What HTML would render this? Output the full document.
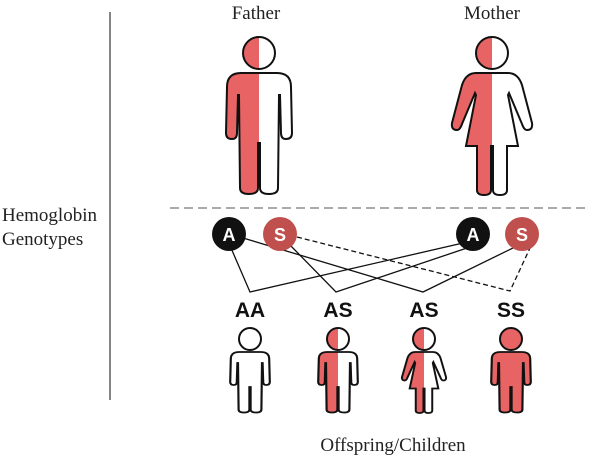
<!DOCTYPE html>
<html><head><meta charset="utf-8"><style>
html,body{margin:0;padding:0;background:#fff;width:600px;height:458px;overflow:hidden}
</style></head><body>
<svg width="600" height="458" viewBox="0 0 600 458" xmlns="http://www.w3.org/2000/svg">
<defs>
<path id="man" d="M -18 0 H 18 Q 32 0 32 14 L 33 60 Q 33 66 27 66 Q 22 66 22 60 L 21 22 L 20 22 L 19 115 Q 19 121 10 121 Q 1 121 1 115 L 1 70 L -1 70 L -1 115 Q -1 121 -10 121 Q -19 121 -19 115 L -20 22 L -21 22 L -22 60 Q -22 66 -27 66 Q -33 66 -33 60 L -32 14 Q -32 0 -18 0 Z"/>
<path id="woman" d="M -16 0 H 16 Q 26 0 30 12 L 40 50 Q 41 57 35 57 Q 32 57 30 51 L 17 20 L 16 22 L 26 73 H 15 L 15 117 Q 15 122 8 122 Q 1 122 1 117 L 1 73 H -1 L -1 117 Q -1 122 -8 122 Q -15 122 -15 117 L -15 73 H -26 L -16 22 L -17 20 L -30 51 Q -32 57 -35 57 Q -41 57 -40 50 L -30 12 Q -26 0 -16 0 Z"/>
<clipPath id="lh"><rect x="-100" y="-100" width="100" height="300"/></clipPath>
</defs>
<g font-family="Liberation Serif, serif" font-size="19" fill="#222">
<text x="256" y="19" text-anchor="middle">Father</text>
<text x="492" y="19" text-anchor="middle">Mother</text>
<text x="2" y="221">Hemoglobin</text>
<text x="2" y="245">Genotypes</text>
<text x="393" y="451" text-anchor="middle">Offspring/Children</text>
</g>
<line x1="110" y1="12" x2="110" y2="400" stroke="#444" stroke-width="1.3"/>
<line x1="170" y1="208" x2="590" y2="208" stroke="#777" stroke-width="1.2" stroke-dasharray="9,5"/>

<g transform="translate(259,53)">
<circle r="16" fill="#fff"/><circle r="16" fill="#e86464" clip-path="url(#lh)"/><circle r="16" fill="none" stroke="#111" stroke-width="2"/>
</g>
<g transform="translate(259,73)">
<use href="#man" fill="#fff"/><use href="#man" fill="#e86464" clip-path="url(#lh)"/><use href="#man" fill="none" stroke="#111" stroke-width="2"/>
</g>
<g transform="translate(492,53)">
<circle r="16" fill="#fff"/><circle r="16" fill="#e86464" clip-path="url(#lh)"/><circle r="16" fill="none" stroke="#111" stroke-width="2"/>
</g>
<g transform="translate(492,73)">
<use href="#woman" fill="#fff"/><use href="#woman" fill="#e86464" clip-path="url(#lh)"/><use href="#woman" fill="none" stroke="#111" stroke-width="2"/>
</g>

<g fill="none" stroke="#111" stroke-width="1.3">
<polyline points="231,248 250,292 463,243"/>
<polyline points="290,245 336,292 470,247"/>
<polyline points="243,238 423,292 515,247"/>
<polyline points="297,237 510,291 530,248" stroke-dasharray="5,3"/>
</g>
<g font-family="Liberation Sans, sans-serif" font-weight="bold" font-size="18" fill="#fff" text-anchor="middle">
<circle cx="229" cy="234" r="17" fill="#111"/><text x="229" y="241">A</text>
<circle cx="280" cy="234" r="17" fill="#c0504d"/><text x="280" y="241">S</text>
<circle cx="473" cy="234" r="17" fill="#111"/><text x="473" y="241">A</text>
<circle cx="522" cy="234" r="17" fill="#c0504d"/><text x="522" y="241">S</text>
</g>
<g font-family="Liberation Sans, sans-serif" font-weight="bold" font-size="21" fill="#111" text-anchor="middle">
<text x="250" y="317">AA</text><text x="338" y="317">AS</text><text x="424" y="317">AS</text><text x="511" y="317">SS</text>
</g>

<g stroke-width="2">
<g transform="translate(250,339)"><circle r="11" fill="#fff" stroke="#111"/></g>
<g transform="translate(250,352) scale(0.6,0.5)"><use href="#man" fill="#fff" stroke="#111" stroke-width="3.6"/></g>

<g transform="translate(338,339)"><circle r="11" fill="#fff"/><circle r="11" fill="#e86464" clip-path="url(#lh)"/><circle r="11" fill="none" stroke="#111"/></g>
<g transform="translate(338,352) scale(0.6,0.5)"><use href="#man" fill="#fff"/><use href="#man" fill="#e86464" clip-path="url(#lh)"/><use href="#man" fill="none" stroke="#111" stroke-width="3.6"/></g>

<g transform="translate(424,339)"><circle r="11" fill="#fff"/><circle r="11" fill="#e86464" clip-path="url(#lh)"/><circle r="11" fill="none" stroke="#111"/></g>
<g transform="translate(424,352) scale(0.55,0.5)"><use href="#woman" fill="#fff"/><use href="#woman" fill="#e86464" clip-path="url(#lh)"/><use href="#woman" fill="none" stroke="#111" stroke-width="3.6"/></g>

<g transform="translate(511,339)"><circle r="11" fill="#e86464" stroke="#111"/></g>
<g transform="translate(511,352) scale(0.6,0.5)"><use href="#man" fill="#e86464" stroke="#111" stroke-width="3.6"/></g>
</g>
</svg>
</body></html>
